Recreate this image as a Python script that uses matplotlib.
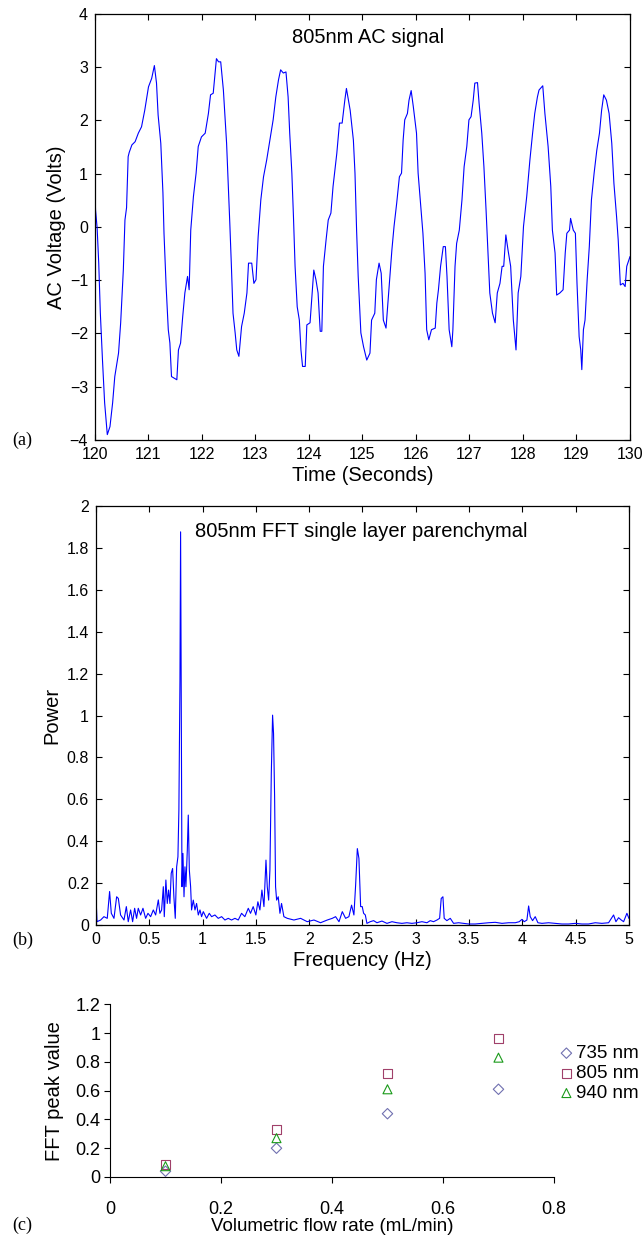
import numpy as np
import matplotlib.pyplot as plt

plt.rcParams['font.family'] = ['Liberation Sans', 'DejaVu Sans']

# (a) 805nm AC signal
t_sig = [120.00, 120.01, 120.04, 120.07, 120.10, 120.14, 120.18, 120.23, 120.28, 120.33,
         120.37, 120.44, 120.48, 120.53, 120.56, 120.59, 120.62, 120.64, 120.69, 120.75,
         120.81, 120.87, 120.93, 121.00, 121.06, 121.11, 121.15, 121.18, 121.23, 121.27,
         121.29, 121.33, 121.37, 121.40, 121.43, 121.48, 121.53, 121.56, 121.60, 121.64,
         121.68, 121.73, 121.76, 121.79, 121.84, 121.89, 121.93, 121.99, 122.06, 122.12,
         122.16, 122.21, 122.27, 122.31, 122.35, 122.40, 122.43, 122.46, 122.49, 122.52,
         122.55, 122.58, 122.62, 122.65, 122.69, 122.74, 122.79, 122.84, 122.87, 122.93,
         122.97, 123.01, 123.05, 123.10, 123.15, 123.21, 123.27, 123.33, 123.38, 123.43,
         123.47, 123.52, 123.57, 123.61, 123.64, 123.68, 123.71, 123.74, 123.78, 123.82,
         123.85, 123.88, 123.93, 123.96, 124.02, 124.05, 124.09, 124.13, 124.17, 124.21,
         124.24, 124.27, 124.32, 124.36, 124.41, 124.45, 124.52, 124.57, 124.62, 124.67,
         124.70, 124.77, 124.83, 124.86, 124.89, 124.92, 124.97, 125.02, 125.08, 125.14,
         125.17, 125.23, 125.26, 125.31, 125.35, 125.39, 125.44, 125.48, 125.51, 125.55,
         125.59, 125.64, 125.69, 125.73, 125.76, 125.79, 125.84, 125.87, 125.91, 125.95,
         126.01, 126.04, 126.09, 126.13, 126.17, 126.20, 126.24, 126.29, 126.36, 126.39,
         126.42, 126.46, 126.51, 126.55, 126.58, 126.62, 126.67, 126.69, 126.73, 126.76,
         126.81, 126.86, 126.90, 126.95, 126.99, 127.03, 127.07, 127.10, 127.15, 127.18,
         127.23, 127.27, 127.31, 127.35, 127.38, 127.43, 127.48, 127.52, 127.57, 127.61,
         127.64, 127.68, 127.72, 127.77, 127.82, 127.87, 127.91, 127.96, 128.01, 128.07,
         128.13, 128.18, 128.22, 128.27, 128.30, 128.37, 128.41, 128.47, 128.52, 128.55,
         128.60, 128.63, 128.69, 128.75, 128.79, 128.82, 128.87, 128.89, 128.94, 128.98,
         129.01, 129.05, 129.08, 129.10, 129.13, 129.16, 129.20, 129.24, 129.28, 129.33,
         129.38, 129.43, 129.47, 129.51, 129.56, 129.61, 129.66, 129.70, 129.75, 129.78,
         129.82, 129.87, 129.91, 129.94, 130.00]
v_sig = [0.66, 0.32, -0.02, -0.68, -1.62, -2.50, -3.30, -3.90, -3.75, -3.30,
         -2.81, -2.37, -1.80, -0.80, 0.13, 0.36, 1.32, 1.40, 1.54, 1.60,
         1.76, 1.88, 2.19, 2.63, 2.79, 3.03, 2.70, 2.10, 1.57, 0.64,
         -0.12, -1.12, -1.93, -2.18, -2.81, -2.84, -2.87, -2.31, -2.18, -1.68,
         -1.24, -0.93, -1.18, -0.06, 0.57, 1.01, 1.51, 1.69, 1.76, 2.13,
         2.48, 2.51, 3.16, 3.10, 3.10, 2.57, 2.07, 1.57, 0.82, 0.07,
         -0.74, -1.62, -1.99, -2.31, -2.43, -1.87, -1.62, -1.24, -0.68, -0.68,
         -1.06, -0.99, -0.18, 0.51, 0.94, 1.26, 1.63, 2.01, 2.44, 2.76,
         2.95, 2.89, 2.91, 2.44, 1.76, 1.01, 0.19, -0.74, -1.50, -1.75,
         -2.31, -2.62, -2.62, -1.84, -1.80, -1.37, -0.81, -0.99, -1.24, -1.96,
         -1.96, -0.74, -0.24, 0.13, 0.26, 0.76, 1.38, 1.95, 1.95, 2.38,
         2.60, 2.19, 1.63, 1.01, -0.06, -0.93, -1.99, -2.25, -2.50, -2.37,
         -1.75, -1.62, -0.99, -0.68, -0.87, -1.75, -1.90, -1.37, -0.99, -0.43,
         0.01, 0.45, 0.94, 1.01, 1.63, 2.01, 2.13, 2.38, 2.56, 2.26,
         1.76, 1.01, 0.38, -0.12, -0.87, -1.93, -2.12, -1.93, -1.90, -1.43,
         -1.18, -0.74, -0.37, -0.37, -0.93, -1.93, -2.25, -1.93, -0.74, -0.31,
         -0.06, 0.51, 1.13, 1.51, 2.01, 2.07, 2.38, 2.70, 2.71, 2.32,
         1.76, 1.13, 0.32, -0.56, -1.24, -1.62, -1.80, -1.24, -1.06, -0.74,
         -0.74, -0.15, -0.43, -0.74, -1.75, -2.31, -1.24, -0.93, 0.01, 0.57,
         1.26, 1.76, 2.13, 2.44, 2.57, 2.65, 2.13, 1.51, 0.76, -0.06,
         -0.49, -1.28, -1.24, -1.18, -0.49, -0.12, -0.06, 0.16, -0.06, -0.12,
         -1.06, -2.06, -2.31, -2.68, -1.93, -1.75, -0.99, -0.37, 0.51, 1.01,
         1.44, 1.76, 2.19, 2.48, 2.38, 2.13, 1.57, 0.82, 0.19, -0.24,
         -1.09, -1.06, -1.12, -0.74, -0.56]

# (b) FFT power spectrum
f_fft = [0.000, 0.010, 0.044, 0.075, 0.106, 0.128, 0.144, 0.169, 0.194, 0.210,
         0.231, 0.263, 0.285, 0.303, 0.325, 0.344, 0.363, 0.381, 0.397, 0.419,
         0.441, 0.466, 0.488, 0.513, 0.538, 0.560, 0.585, 0.600, 0.616, 0.632,
         0.641, 0.656, 0.669, 0.681, 0.694, 0.706, 0.719, 0.731, 0.744, 0.757,
         0.769, 0.778, 0.788, 0.794, 0.800, 0.807, 0.816, 0.826, 0.835, 0.844,
         0.857, 0.866, 0.876, 0.888, 0.897, 0.913, 0.929, 0.944, 0.960, 0.976,
         0.991, 1.007, 1.038, 1.063, 1.085, 1.116, 1.147, 1.179, 1.210, 1.241,
         1.272, 1.304, 1.335, 1.366, 1.397, 1.429, 1.450, 1.475, 1.500, 1.519,
         1.538, 1.557, 1.576, 1.595, 1.607, 1.620, 1.632, 1.645, 1.657, 1.666,
         1.676, 1.685, 1.695, 1.710, 1.726, 1.741, 1.763, 1.795, 1.857, 1.920,
         1.982, 2.045, 2.107, 2.170, 2.217, 2.248, 2.280, 2.311, 2.342, 2.373,
         2.398, 2.420, 2.436, 2.452, 2.467, 2.483, 2.498, 2.511, 2.527, 2.542,
         2.573, 2.605, 2.636, 2.683, 2.730, 2.777, 2.823, 2.870, 2.917, 2.964,
         3.011, 3.058, 3.105, 3.136, 3.167, 3.199, 3.224, 3.239, 3.255, 3.267,
         3.292, 3.324, 3.355, 3.402, 3.449, 3.496, 3.558, 3.621, 3.683, 3.746,
         3.809, 3.871, 3.934, 3.971, 3.996, 4.018, 4.043, 4.059, 4.074, 4.096,
         4.121, 4.146, 4.184, 4.246, 4.309, 4.371, 4.434, 4.496, 4.559, 4.621,
         4.684, 4.746, 4.809, 4.856, 4.878, 4.903, 4.928, 4.950, 4.981, 5.000]
p_fft = [0.140, 0.016, 0.024, 0.040, 0.032, 0.160, 0.056, 0.032, 0.135, 0.127,
         0.048, 0.024, 0.088, 0.016, 0.072, 0.016, 0.080, 0.032, 0.080, 0.048,
         0.080, 0.032, 0.056, 0.040, 0.072, 0.048, 0.120, 0.056, 0.072, 0.183,
         0.040, 0.215, 0.103, 0.167, 0.103, 0.247, 0.270, 0.135, 0.032, 0.278,
         0.326, 0.549, 1.169, 1.877, 1.138, 0.183, 0.342, 0.135, 0.278, 0.183,
         0.358, 0.525, 0.263, 0.183, 0.072, 0.119, 0.072, 0.103, 0.048, 0.072,
         0.040, 0.064, 0.032, 0.056, 0.040, 0.048, 0.032, 0.040, 0.024, 0.032,
         0.024, 0.032, 0.024, 0.056, 0.040, 0.080, 0.056, 0.088, 0.048, 0.111,
         0.072, 0.167, 0.088, 0.310, 0.183, 0.119, 0.263, 0.724, 1.002, 0.915,
         0.613, 0.183, 0.119, 0.135, 0.056, 0.103, 0.040, 0.032, 0.024, 0.032,
         0.016, 0.024, 0.011, 0.024, 0.032, 0.040, 0.016, 0.064, 0.032, 0.040,
         0.095, 0.048, 0.190, 0.365, 0.318, 0.088, 0.088, 0.056, 0.048, 0.008,
         0.016, 0.021, 0.011, 0.019, 0.008, 0.016, 0.011, 0.008, 0.011, 0.008,
         0.011, 0.016, 0.011, 0.021, 0.016, 0.024, 0.032, 0.127, 0.135, 0.032,
         0.021, 0.032, 0.008, 0.011, 0.008, 0.005, 0.005, 0.008, 0.011, 0.013,
         0.008, 0.011, 0.011, 0.016, 0.027, 0.016, 0.024, 0.091, 0.040, 0.021,
         0.040, 0.011, 0.008, 0.011, 0.008, 0.005, 0.005, 0.008, 0.005, 0.005,
         0.011, 0.008, 0.011, 0.048, 0.016, 0.035, 0.024, 0.016, 0.056, 0.032]

# (c) FFT peak value vs flow rate
flow = [0.1, 0.3, 0.5, 0.7]
peak_735 = [0.04, 0.20, 0.44, 0.61]
peak_805 = [0.085, 0.33, 0.72, 0.965]
peak_940 = [0.075, 0.27, 0.61, 0.83]

fig = plt.figure(figsize=(6.44, 12.41), dpi=100)

# ---- (a)
ax1 = fig.add_axes([0.1475, 0.6455, 0.8307, 0.3433])
ax1.plot(t_sig, v_sig, color='#0000ff', lw=0.8)
ax1.set_xlim(120, 130)
ax1.set_ylim(-4, 4)
ax1.set_xticks(np.arange(120, 131, 1))
ax1.set_yticks(np.arange(-4, 5, 1))
ax1.set_xlabel('Time (Seconds)', fontsize=14.5, labelpad=3)
ax1.set_ylabel('AC Voltage (Volts)', fontsize=14.5, labelpad=3)
ax1.text(0.511, 0.967, '805nm AC signal', transform=ax1.transAxes,
         ha='center', va='top', fontsize=14.5)

# ---- (b)
ax2 = fig.add_axes([0.149, 0.2546, 0.8276, 0.3376])
ax2.plot(f_fft, p_fft, color='#0000ff', lw=0.8)
ax2.set_xlim(0, 5)
ax2.set_ylim(0, 2)
ax2.set_xticks(np.arange(0, 5.01, 0.5))
ax2.set_xticklabels(['0', '0.5', '1', '1.5', '2', '2.5', '3', '3.5', '4', '4.5', '5'])
ax2.set_yticks(np.arange(0, 2.01, 0.2))
ax2.set_yticklabels(['0', '0.2', '0.4', '0.6', '0.8', '1', '1.2', '1.4', '1.6', '1.8', '2'])
ax2.set_xlabel('Frequency (Hz)', fontsize=14.5, labelpad=3)
ax2.set_ylabel('Power', fontsize=14.5, labelpad=4)
ax2.text(0.498, 0.963, '805nm FFT single layer parenchymal', transform=ax2.transAxes,
         ha='center', va='top', fontsize=14.5)

for ax in (ax1, ax2):
    ax.tick_params(direction='in', top=True, right=True, length=4, width=0.8,
                   labelsize=11.5, pad=5)
    for s in ax.spines.values():
        s.set_linewidth(0.9)

# ---- (c)
ax3 = fig.add_axes([0.1708, 0.0516, 0.6894, 0.139])
ax3.scatter(flow, peak_735, marker='D', s=28, facecolors='none',
            edgecolors='#7070b0', linewidths=0.8, label='735 nm')
ax3.scatter(flow, peak_805, marker='s', s=42, facecolors='none',
            edgecolors='#a0406a', linewidths=0.8, label='805 nm')
ax3.scatter(flow, peak_940, marker='^', s=42, facecolors='none',
            edgecolors='#1a9a1a', linewidths=0.8, label='940 nm')
ax3.set_xlim(0, 0.8)
ax3.set_ylim(0, 1.2)
ax3.set_xticks([0, 0.2, 0.4, 0.6, 0.8])
ax3.set_xticklabels(['0', '0.2', '0.4', '0.6', '0.8'])
ax3.set_yticks([0, 0.2, 0.4, 0.6, 0.8, 1.0, 1.2])
ax3.set_yticklabels(['0', '0.2', '0.4', '0.6', '0.8', '1', '1.2'])
ax3.spines['top'].set_visible(False)
ax3.spines['right'].set_visible(False)
ax3.tick_params(axis='x', direction='out', length=4, labelsize=13, pad=13)
ax3.tick_params(axis='y', direction='out', length=4, labelsize=13, pad=3)
ax3.set_xlabel('Volumetric flow rate (mL/min)', fontsize=13.5, labelpad=0)
ax3.set_ylabel('FFT peak value', fontsize=14.5, labelpad=8)
ax3.legend(loc='center left', bbox_to_anchor=(0.99, 0.6), frameon=False,
           fontsize=13.5, handletextpad=0.0, labelspacing=0.15, borderaxespad=0.0,
           handlelength=1.0)

# panel letters
for y, s in [(440, '(a)'), (940, '(b)'), (1225, '(c)')]:
    fig.text(12 / 644, 1 - y / 1241, s, family=['Liberation Serif', 'DejaVu Serif'],
             fontsize=13, va='center', ha='left')

fig.savefig('out.png', dpi=100)
